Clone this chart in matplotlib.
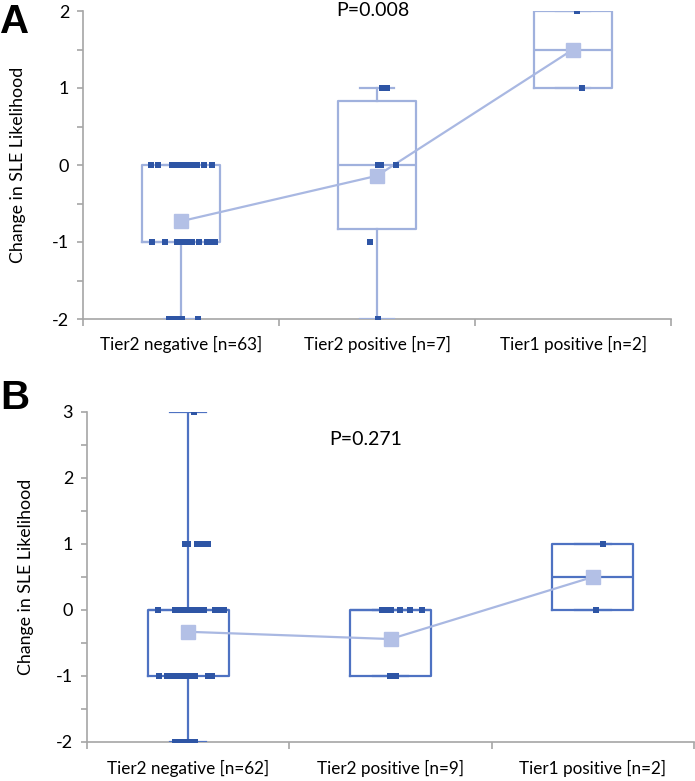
import matplotlib
matplotlib.use("Agg")
import matplotlib.pyplot as plt
import numpy as np

plt.rcParams['font.family'] = ['Lato', 'DejaVu Sans']
plt.rcParams['axes.unicode_minus'] = False

categories_a = ["Tier2 negative [n=63]", "Tier2 positive [n=7]", "Tier1 positive [n=2]"]
categories_b = ["Tier2 negative [n=62]", "Tier2 positive [n=9]", "Tier1 positive [n=2]"]

# box statistics: q1, median, q3, whisker low, whisker high, mean
q1_a = [-1, -0.83, 1]
med_a = [-1, 0, 1.5]
q3_a = [0, 0.83, 2]
wlo_a = [-2, -2, 1]
whi_a = [0, 1, 2]
mean_a = [-0.73, -0.14, 1.5]

q1_b = [-1, -1, 0]
med_b = [0, 0, 0.5]
q3_b = [0, 0, 1]
wlo_b = [-2, -1, 0]
whi_b = [3, 0, 1]
mean_b = [-0.33, -0.44, 0.5]

# individual points (value) and their horizontal jitter in pixels
pts_a = [
    [0]*11 + [-1]*13 + [-2]*5,
    [1, 1, 0, 0, 0, -1, -2],
    [2, 1],
]
jit_a = [
    [-30, -23, -9, -5, -1, 3, 7, 11, 16, 23, 31,
     -29, -16, -4, 0, 4, 8, 11, 18, 26, 30, 34, 34, 30,
     -12, -8, -4, 1, 17],
    [4.5, 9.5, 0.5, 3.5, 18.5, -7, 0.5],
    [3.5, 8.5],
]
pts_b = [
    [3] + [1]*6 + [0]*12 + [-1]*11 + [-2]*6,
    [0]*6 + [-1]*3,
    [1, 0],
]
jit_b = [
    [5.5,
     -3.5, -0.5, 8.5, 12.5, 16, 19.5,
     -30, -13.5, -9.5, -5.5, -1.5, 2.5, 6.5, 10.5, 15.5, 26.5, 31, 35.5,
     -29.5, -21.5, -17.5, -13.5, -9.5, -5.5, -1.5, 2.5, 6.5, 19.5, 23.5,
     -13.5, -9.5, -5.5, -1.5, 2.5, 6.5],
    [-8.5, -4.5, 0.5, 9, 19.5, 31, -0.5, 2.5, 5.5],
    [10, 3],
]

point_col = "#2E55A5"
mean_col = "#B3C0E6"
line_col = "#A9B8E2"
spine_col = "#A6A6A6"

fig = plt.figure(figsize=(6.95, 7.81), dpi=100)


def panel(rect, cats, q1, med, q3, wlo, whi, mean, pts, jit, box_col,
          ylim, catpx, ylab_x, label_pad, ptext, pxy, letter, letter_xy):
    ax = fig.add_axes(rect)
    x = np.arange(len(cats))
    stats = []
    for i in range(len(cats)):
        stats.append(dict(q1=q1[i], med=med[i], q3=q3[i], whislo=wlo[i],
                          whishi=whi[i], fliers=[]))
    lw = 1.6
    ax.bxp(stats, positions=x, widths=0.4, capwidths=0.175, showfliers=False,
           boxprops=dict(color=box_col, lw=lw),
           whiskerprops=dict(color=box_col, lw=lw),
           capprops=dict(color=box_col, lw=lw),
           medianprops=dict(color=box_col, lw=lw), zorder=2)
    ax.plot(x, mean, color=line_col, lw=1.6, zorder=3)
    ax.plot(x, mean, ls="none", marker="s", ms=10, color=mean_col, zorder=4)
    for i in range(len(cats)):
        xs = i + np.array(jit[i]) / catpx
        ax.scatter(xs, pts[i], marker="s", s=14, color=point_col, lw=0, zorder=5)

    ax.set_xlim(-0.5, len(cats) - 0.5)
    ax.set_ylim(*ylim)
    for s in ["top", "right"]:
        ax.spines[s].set_visible(False)
    for s in ["left", "bottom"]:
        ax.spines[s].set_color(spine_col)
        ax.spines[s].set_linewidth(1.2)
        ax.spines[s].set_zorder(1)
    ax.set_yticks(np.arange(ylim[0], ylim[1] + 0.1, 1))
    ax.set_yticks(np.arange(ylim[0], ylim[1] + 0.1, 0.5), minor=True)
    ax.set_yticklabels([str(int(v)) for v in np.arange(ylim[0], ylim[1] + 0.1, 1)])
    ax.tick_params(axis="y", which="both", length=4, width=1.2, color=spine_col,
                   labelsize=13, pad=6)
    ax.set_xticks(x)
    ax.set_xticklabels(cats)
    ax.set_xticks(np.arange(-0.5, len(cats)), minor=True)
    ax.tick_params(axis="x", which="major", length=0, labelsize=12.3, pad=label_pad)
    ax.tick_params(axis="x", which="minor", length=5, width=1.2, color=spine_col)
    ax.set_ylabel("Change in SLE Likelihood", fontsize=12.8)
    ax.yaxis.set_label_coords(ylab_x, 0.5)
    ax.text(pxy[0], pxy[1], ptext, fontsize=14, ha="center", va="baseline")
    fig.text(letter_xy[0], letter_xy[1], letter, fontsize=29, fontweight="bold",
             family="Liberation Sans", ha="left", va="top")
    return ax


panel([83/695, 1 - 319/781, 588/695, 308/781], categories_a,
      q1_a, med_a, q3_a, wlo_a, whi_a, mean_a, pts_a, jit_a, "#A0B1DD",
      (-2, 2), 196.0, -0.097, 12, "P=0.008", (0.98, 1.94), "A", (0.0, 1 - 3/781))

panel([87/695, 1 - 742/781, 607/695, 330/781], categories_b,
      q1_b, med_b, q3_b, wlo_b, whi_b, mean_b, pts_b, jit_b, "#4E72C2",
      (-2, 3), 202.3, -0.087, 13, "P=0.271", (0.877, 2.5), "B", (0.0, 1 - 379/781))

fig.savefig("out.png", dpi=100)
